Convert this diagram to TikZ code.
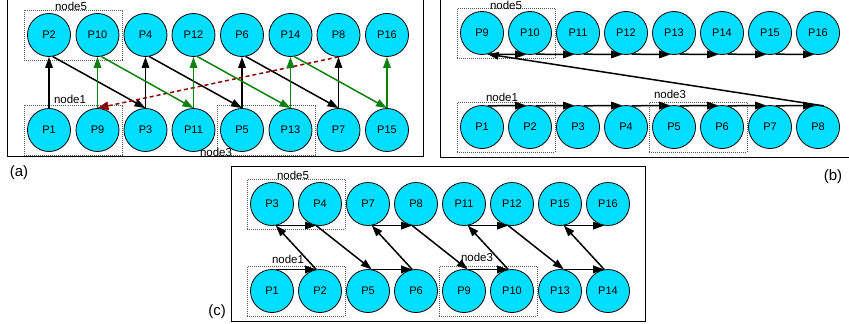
\documentclass[tikz,border=0pt]{standalone}
\usepackage{fontspec}
\setmainfont{Liberation Sans}
\usetikzlibrary{arrows.meta,fit}
\definecolor{ProcCyan}{rgb}{0.0, 0.87, 1.0}
\definecolor{FlowGreen}{rgb}{0.05, 0.5, 0.05}
\definecolor{BackRed}{rgb}{0.55, 0.0, 0.0}
\definecolor{GroupGray}{rgb}{0.35, 0.35, 0.35}

\begin{document}
\begin{tikzpicture}[x=1pt,y=1pt,yscale=-1,xscale=1,
    proc/.style={circle, draw, line width=0.8pt, fill=ProcCyan, minimum size=43pt, inner sep=0pt, font=\fontsize{11}{13}\selectfont},
    grp/.style={draw=GroupGray, line width=0.7pt, dash pattern=on 1pt off 1pt, inner sep=3pt},
    grplabel/.style={inner sep=0pt, font=\fontsize{11.5}{13}\selectfont},
    panel/.style={inner sep=0pt, font=\fontsize{15}{17}\selectfont},
    arr/.style={-{Triangle[length=11pt,width=7.5pt]}, line width=1.5pt},
    garr/.style={arr, color=FlowGreen},
    rarr/.style={-{Triangle[length=11pt,width=8.5pt]}, line width=1.5pt, color=BackRed, dash pattern=on 4pt off 3pt}]
\useasboundingbox (0,0) rectangle (849,324);

%Frames
\draw [line width=0.8pt] (7,0) -- (7,156) -- (423,156) -- (423,0) ;
\draw [line width=0.8pt] (440,0) -- (440,157) -- (849,157) ;
\draw [line width=0.8pt] (231,166) rectangle (645,321) ;

% ---------- (a) ----------
%Shape: Circle
\node [proc] (aP2) at (49,35) {P2};
\node [proc] (aP10) at (97.5,35) {P10};
\node [proc] (aP4) at (145.5,35) {P4};
\node [proc] (aP12) at (193.5,35) {P12};
\node [proc] (aP6) at (242,35) {P6};
\node [proc] (aP14) at (290.5,35) {P14};
\node [proc] (aP8) at (338.5,35) {P8};
\node [proc] (aP16) at (387,35) {P16};
%Shape: Circle
\node [proc] (aP1) at (49,130) {P1};
\node [proc] (aP9) at (97.5,130) {P9};
\node [proc] (aP3) at (145.5,130) {P3};
\node [proc] (aP11) at (193.5,130) {P11};
\node [proc] (aP5) at (242,130) {P5};
\node [proc] (aP13) at (290.5,130) {P13};
\node [proc] (aP7) at (338.5,130) {P7};
\node [proc] (aP15) at (387,130) {P15};
%Groups
\node [grp, fit=(aP2)(aP10)] (aG5) {};
\node [grp, fit=(aP1)(aP9)] (aG1) {};
\node [grp, fit=(aP5)(aP13)] (aG3) {};
% Text Node
\node [grplabel] (aL5) at (71,6) {node5};
\node [grplabel] (aL1) at (70,99) {node1};
\node [grplabel] (aL3) at (216,152) {node3};
%Straight Lines
\draw [arr] (aP1.north) -- (aP2.south) ;
\draw [arr] (aP2.-80) -- (aP3.north) ;
\draw [arr] (aP3.north) -- (aP4.south) ;
\draw [arr] (aP4.-80) -- (aP5.north) ;
\draw [arr] (aP5.north) -- (aP6.south) ;
\draw [arr] (aP6.-80) -- (aP7.north) ;
\draw [arr] (aP7.north) -- (aP8.south) ;
\draw [rarr] (aP8.south) -- (aP9.north) ;
\draw [garr] (aP9.north) -- (aP10.south) ;
\draw [garr] (aP10.-80) -- (aP11.north) ;
\draw [garr] (aP11.north) -- (aP12.south) ;
\draw [garr] (aP12.-80) -- (aP13.north) ;
\draw [garr] (aP13.north) -- (aP14.south) ;
\draw [garr] (aP14.-80) -- (aP15.north) ;
\draw [garr] (aP15.north) -- (aP16.south) ;
% Text Node
\node [panel] (aTag) at (19,173) {(a)};

% ---------- (b) ----------
%Shape: Circle
\node [proc] (bP9) at (482,33) {P9};
\node [proc] (bP10) at (530,33) {P10};
\node [proc] (bP11) at (578,33) {P11};
\node [proc] (bP12) at (626,33) {P12};
\node [proc] (bP13) at (674,33) {P13};
\node [proc] (bP14) at (722,33) {P14};
\node [proc] (bP15) at (770,33) {P15};
\node [proc] (bP16) at (818,33) {P16};
%Shape: Circle
\node [proc] (bP1) at (482,127) {P1};
\node [proc] (bP2) at (530,127) {P2};
\node [proc] (bP3) at (578,127) {P3};
\node [proc] (bP4) at (626,127) {P4};
\node [proc] (bP5) at (674,127) {P5};
\node [proc] (bP6) at (722,127) {P6};
\node [proc] (bP7) at (770,127) {P7};
\node [proc] (bP8) at (818,127) {P8};
%Groups
\node [grp, fit=(bP9)(bP10)] (bG5) {};
\node [grp, fit=(bP1)(bP2)] (bG1) {};
\node [grp, fit=(bP5)(bP6)] (bG3) {};
% Text Node
\node [grplabel] (bL5) at (506,5) {node5};
\node [grplabel] (bL1) at (502,97) {node1};
\node [grplabel] (bL3) at (670,94) {node3};
%Straight Lines
\draw [arr] (bP1.75) -- (bP2.100) ;
\draw [arr] (bP2.75) -- (bP3.100) ;
\draw [arr] (bP3.75) -- (bP4.100) ;
\draw [arr] (bP4.75) -- (bP5.100) ;
\draw [arr] (bP5.75) -- (bP6.100) ;
\draw [arr] (bP6.75) -- (bP7.100) ;
\draw [arr] (bP7.75) -- (bP8.100) ;
\draw [arr] (bP8.75) -- (bP9.-75) ;
\draw [arr] (bP9.-75) -- (bP10.-100) ;
\draw [arr] (bP10.-75) -- (bP11.-100) ;
\draw [arr] (bP11.-75) -- (bP12.-100) ;
\draw [arr] (bP12.-75) -- (bP13.-100) ;
\draw [arr] (bP13.-75) -- (bP14.-100) ;
\draw [arr] (bP14.-75) -- (bP15.-100) ;
\draw [arr] (bP15.-75) -- (bP16.-100) ;
% Text Node
\node [panel] (bTag) at (833,177) {(b)};

% ---------- (c) ----------
%Shape: Circle
\node [proc] (cP3) at (272,204) {P3};
\node [proc] (cP4) at (320,204) {P4};
\node [proc] (cP7) at (368,204) {P7};
\node [proc] (cP8) at (416,204) {P8};
\node [proc] (cP11) at (464,204) {P11};
\node [proc] (cP12) at (512,204) {P12};
\node [proc] (cP15) at (560,204) {P15};
\node [proc] (cP16) at (608,204) {P16};
%Shape: Circle
\node [proc] (cP1) at (272,291) {P1};
\node [proc] (cP2) at (320,291) {P2};
\node [proc] (cP5) at (368,291) {P5};
\node [proc] (cP6) at (416,291) {P6};
\node [proc] (cP9) at (464,291) {P9};
\node [proc] (cP10) at (512,291) {P10};
\node [proc] (cP13) at (560,291) {P13};
\node [proc] (cP14) at (608,291) {P14};
%Groups
\node [grp, fit=(cP3)(cP4)] (cG5) {};
\node [grp, fit=(cP1)(cP2)] (cG1) {};
\node [grp, fit=(cP9)(cP10)] (cG3) {};
% Text Node
\node [grplabel] (cL5) at (293,175) {node5};
\node [grplabel] (cL1) at (288,259) {node1};
\node [grplabel] (cL3) at (477,257) {node3};
%Straight Lines
\draw [arr] (cP1.80) -- (cP2.100) ;
\draw [arr] (cP2.100) -- (cP3.-80) ;
\draw [arr] (cP3.-80) -- (cP4.-100) ;
\draw [arr] (cP4.-100) -- (cP5.80) ;
\draw [arr] (cP5.80) -- (cP6.100) ;
\draw [arr] (cP6.100) -- (cP7.-80) ;
\draw [arr] (cP7.-80) -- (cP8.-100) ;
\draw [arr] (cP8.-100) -- (cP9.80) ;
\draw [arr] (cP9.80) -- (cP10.100) ;
\draw [arr] (cP10.100) -- (cP11.-80) ;
\draw [arr] (cP11.-80) -- (cP12.-100) ;
\draw [arr] (cP12.-100) -- (cP13.80) ;
\draw [arr] (cP13.80) -- (cP14.100) ;
\draw [arr] (cP14.100) -- (cP15.-80) ;
\draw [arr] (cP15.-80) -- (cP16.-100) ;
% Text Node
\node [panel] (cTag) at (217,312) {(c)};

\end{tikzpicture}
\end{document}
